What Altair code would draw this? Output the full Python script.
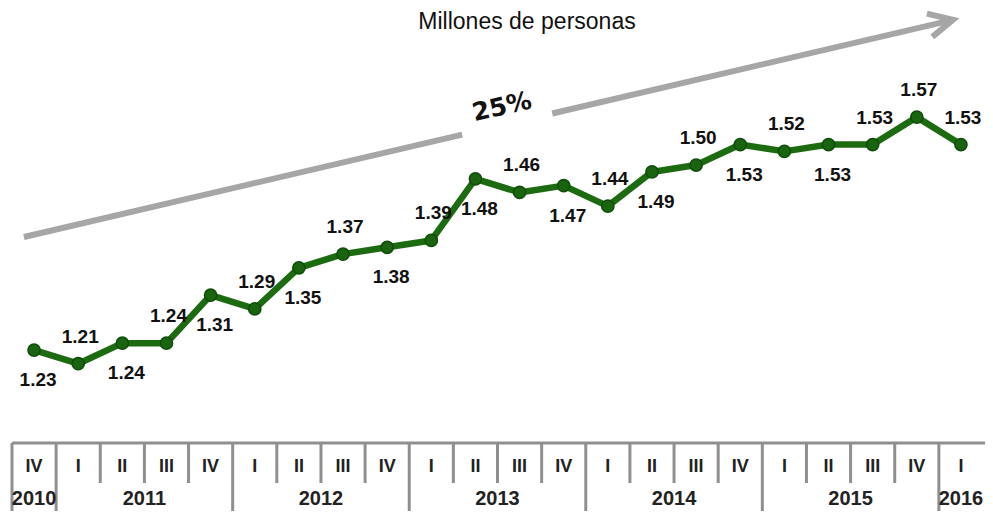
import altair as alt
import pandas as pd

# ---------------- data ----------------
quarters = ["IV", "I", "II", "III", "IV", "I", "II", "III", "IV", "I", "II",
            "III", "IV", "I", "II", "III", "IV", "I", "II", "III", "IV", "I"]
years = [2010, 2011, 2011, 2011, 2011, 2012, 2012, 2012, 2012, 2013, 2013,
         2013, 2013, 2014, 2014, 2014, 2014, 2015, 2015, 2015, 2015, 2016]
values = [1.23, 1.21, 1.24, 1.24, 1.31, 1.29, 1.35, 1.37, 1.38, 1.39, 1.48,
          1.46, 1.47, 1.44, 1.49, 1.50, 1.53, 1.52, 1.53, 1.53, 1.57, 1.53]
label_side = ["below", "above", "below", "above", "below", "above", "below",
              "above", "below", "above", "below", "above", "below", "above",
              "below", "above", "below", "above", "below", "above", "above",
              "above"]

title_text = "Millones de personas"
growth_text = "25%"
# growth arrow, in (quarter index, value) coordinates
arrow_idx = [-0.23, 20.82]
arrow_val = [1.395, 1.712]
arrow_gap_idx = [9.70, 11.74]
growth_label_idx = 10.60
growth_label_val = 1.585

# ---------------- tables ----------------
n = len(values)
df = pd.DataFrame({"i": list(range(n)), "q": quarters, "year": years,
                   "v": values, "side": label_side})
df["b"] = df["i"] - 0.5
df["is_year_start"] = (df["q"] == "I") | (df["i"] == 0)

year_df = df.groupby("year", as_index=False)["i"].mean()


def along(ix):
    t = (ix - arrow_idx[0]) / (arrow_idx[1] - arrow_idx[0])
    return arrow_val[0] + t * (arrow_val[1] - arrow_val[0])


seg_df = pd.DataFrame({
    "x": [arrow_idx[0], arrow_gap_idx[1]],
    "x2": [arrow_gap_idx[0], arrow_idx[1]],
    "y": [arrow_val[0], along(arrow_gap_idx[1])],
    "y2": [along(arrow_gap_idx[0]), arrow_val[1]],
})
tip_df = pd.DataFrame({"x": [arrow_idx[1]], "y": [arrow_val[1]]})
growth_df = pd.DataFrame({"x": [growth_label_idx], "y": [growth_label_val],
                          "t": [growth_text]})

X0, X1 = -0.5906, 21.5453
xs = alt.Scale(domain=[X0, X1], nice=False, zero=False)
ys = alt.Scale(domain=[0.995, 1.7293], nice=False, zero=False)

GREEN = "#1d6b10"
GRAY_ARROW = "#a6a6a6"
GRAY_TABLE = "#8f8f8f"
FONT = "Liberation Sans"

base = alt.Chart(df)

line = base.mark_line(color=GREEN, strokeWidth=6.5, strokeJoin="round").encode(
    x=alt.X("i:Q", scale=xs, axis=None),
    y=alt.Y("v:Q", scale=ys, axis=None),
)
pts = base.mark_point(filled=True, size=150, color="#1a6410", stroke="#0f4d08",
                      strokeWidth=1.5, opacity=1).encode(
    x=alt.X("i:Q", scale=xs, axis=None),
    y=alt.Y("v:Q", scale=ys, axis=None),
)
lab_above = base.transform_filter(alt.datum.side == "above").mark_text(
    font=FONT, fontSize=19, fontWeight="bold", color="#111111", dy=-27, dx=2,
    baseline="middle").encode(
    x=alt.X("i:Q", scale=xs, axis=None),
    y=alt.Y("v:Q", scale=ys, axis=None),
    text=alt.Text("v:Q", format=".2f"),
)
lab_below = base.transform_filter(alt.datum.side == "below").mark_text(
    font=FONT, fontSize=19, fontWeight="bold", color="#111111", dy=30, dx=4,
    baseline="middle").encode(
    x=alt.X("i:Q", scale=xs, axis=None),
    y=alt.Y("v:Q", scale=ys, axis=None),
    text=alt.Text("v:Q", format=".2f"),
)

# arrow
arrow = alt.Chart(seg_df).mark_rule(color=GRAY_ARROW, strokeWidth=6).encode(
    x=alt.X("x:Q", scale=xs, axis=None), x2="x2:Q",
    y=alt.Y("y:Q", scale=ys, axis=None), y2="y2:Q",
)
tip = alt.Chart(tip_df).mark_point(
    shape="M -1 -0.5 L 0 0 L -1 0.5", size=2300, filled=False,
    stroke=GRAY_ARROW, strokeWidth=6, angle=347, opacity=1,
    strokeJoin="miter").encode(
    x=alt.X("x:Q", scale=xs, axis=None),
    y=alt.Y("y:Q", scale=ys, axis=None),
)
growth = alt.Chart(growth_df).mark_text(
    font="DejaVu Sans", fontSize=25, fontWeight="bold", color="#111111",
    angle=347, baseline="middle", align="center").encode(
    x=alt.X("x:Q", scale=xs, axis=None),
    y=alt.Y("y:Q", scale=ys, axis=None),
    text="t:N",
)

title = alt.Chart(pd.DataFrame({"t": [title_text]})).mark_text(
    font="Liberation Sans", fontSize=23,
    color="#111111", baseline="top", align="center").encode(
    x=alt.value(519), y=alt.value(3), text="t:N")

# category table (axis)
top_line = alt.Chart(pd.DataFrame({"a": [-0.5], "b2": [X1]})).mark_rule(
    color=GRAY_TABLE, strokeWidth=3).encode(
    x=alt.X("a:Q", scale=xs, axis=None), x2="b2:Q", y=alt.value(435))
short_ticks = base.transform_filter(~alt.datum.is_year_start).mark_rule(
    color=GRAY_TABLE, strokeWidth=3).encode(
    x=alt.X("b:Q", scale=xs, axis=None), y=alt.value(435), y2=alt.value(475))
long_ticks = base.transform_filter(alt.datum.is_year_start).mark_rule(
    color=GRAY_TABLE, strokeWidth=3).encode(
    x=alt.X("b:Q", scale=xs, axis=None), y=alt.value(435), y2=alt.value(503))
q_labels = base.mark_text(font=FONT, fontSize=18, fontWeight="bold",
                          color="#222222", baseline="middle").encode(
    x=alt.X("i:Q", scale=xs, axis=None), y=alt.value(459), text="q:N")
y_labels = alt.Chart(year_df).mark_text(
    font=FONT, fontSize=20, fontWeight="bold", color="#222222",
    baseline="middle").encode(
    x=alt.X("i:Q", scale=xs, axis=None), y=alt.value(491),
    text=alt.Text("year:Q", format="d"))

chart = alt.layer(
    arrow, tip, growth, title, top_line, short_ticks, long_ticks, q_labels,
    y_labels, line, pts, lab_above, lab_below
).properties(
    width=977, height=503,
    autosize=alt.AutoSizeParams(type="none"),
    padding=0,
    background="white",
).configure_view(stroke=None)

chart.save("out.html", embed_options={"renderer": "svg", "actions": False})
